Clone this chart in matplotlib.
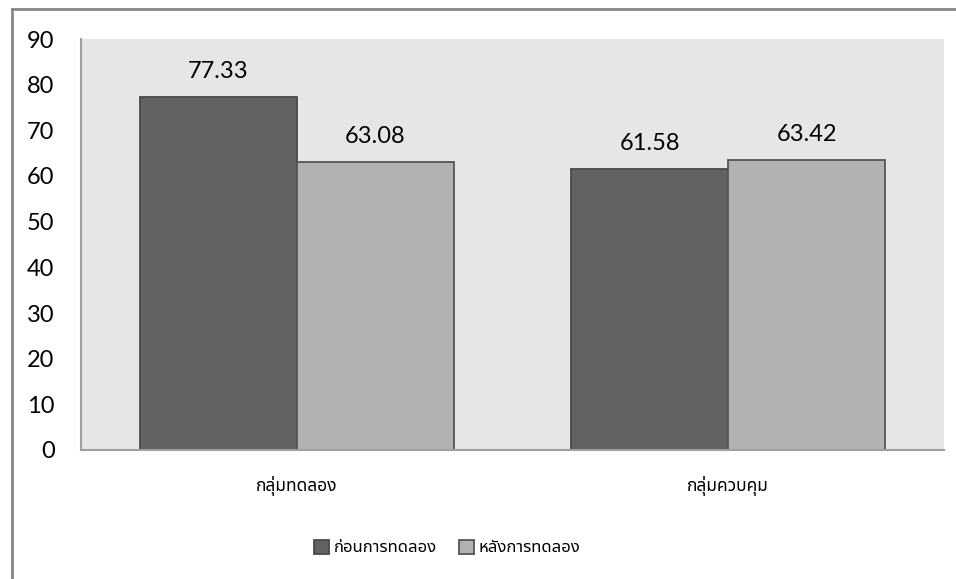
import matplotlib
matplotlib.use("Agg")
from matplotlib import pyplot as plt
from matplotlib.lines import Line2D
import numpy as np

groups = ["กลุ่มทดลอง", "กลุ่มควบคุม"]
before = [77.33, 61.58]
after = [63.08, 63.42]
series_names = ["ก่อนการทดลอง", "หลังการทดลอง"]

plt.rcParams['font.family'] = ['Lato', 'Noto Sans Thai', 'DejaVu Sans']
thai = {'family': ['Noto Sans Thai', 'DejaVu Sans']}

fig = plt.figure(figsize=(9.56, 5.79), dpi=100)
ax = fig.add_axes([81/956, 1-450/579, (944-81)/956, (450-39)/579])
ax.set_facecolor('#e6e6e6')

x = np.arange(len(groups))
w = 0.364
b1 = ax.bar(x - w/2, before, w, color='#626262', edgecolor='#4a4a4a', linewidth=1.3, label=series_names[0])
b2 = ax.bar(x + w/2, after, w, color='#b2b2b2', edgecolor='#555555', linewidth=1.3, label=series_names[1])

# value labels above bars
for bars in (b1, b2):
    for r in bars:
        h = r.get_height()
        ax.annotate(f"{h:.2f}", (r.get_x() + r.get_width()/2, h), xytext=(0, 11),
                    textcoords='offset points', ha='center', va='bottom', fontsize=17)

ax.set_xlim(-0.5, 1.5)
ax.set_ylim(0, 90)
ax.set_yticks(range(0, 91, 10))
ax.tick_params(axis='y', length=0, pad=19, labelsize=17)
ax.set_xticks(x)
ax.set_xticklabels(groups, fontsize=12.5, **thai)
ax.tick_params(axis='x', length=0, pad=19)

for s in ('top', 'right'):
    ax.spines[s].set_visible(False)
for s in ('left', 'bottom'):
    ax.spines[s].set_color('#a0a0a0')
    ax.spines[s].set_linewidth(1.5)

# outer frame (top and left edges only)
fig.add_artist(Line2D([12/956, 12/956], [0, 1-9/579], color='#888888', linewidth=2, transform=fig.transFigure))
fig.add_artist(Line2D([12/956, 1], [1-9/579, 1-9/579], color='#888888', linewidth=2, transform=fig.transFigure))

fig.legend(loc='center', bbox_to_anchor=(447/956, 1-548/579), ncol=2, frameon=False,
           prop=dict(size=12, **thai), handlelength=0.9, handleheight=0.9,
           handletextpad=0.3, columnspacing=1.3)

fig.savefig("out.png", dpi=100)
